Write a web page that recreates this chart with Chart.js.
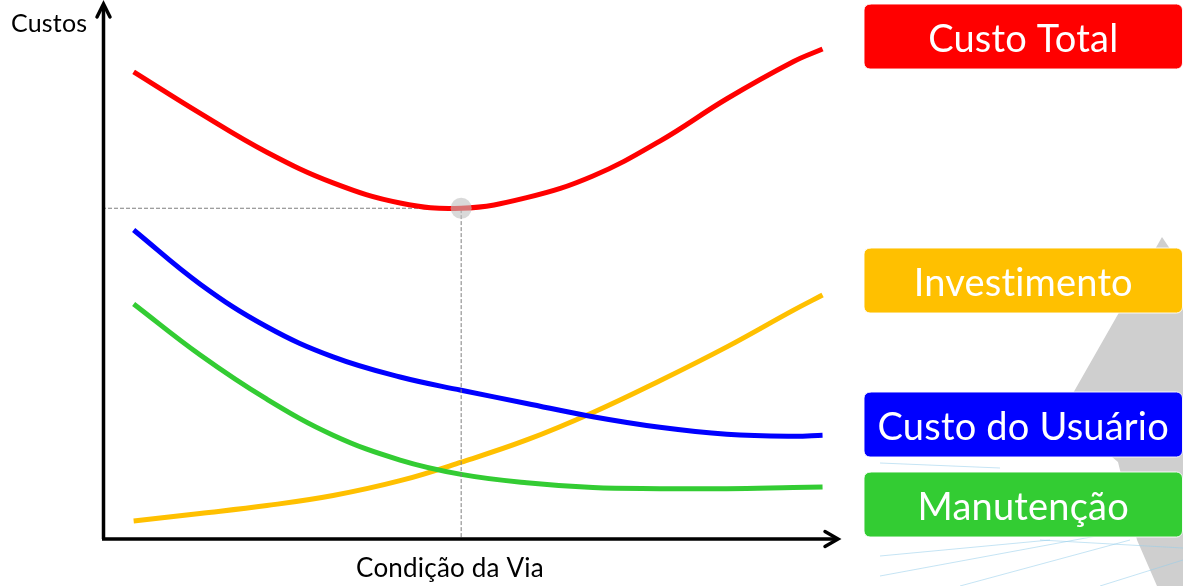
<!DOCTYPE html>
<html>
<head>
<meta charset="utf-8">
<script src="https://cdn.jsdelivr.net/npm/chart.js@4/dist/chart.umd.min.js"></script>
<style>
  html, body { margin: 0; padding: 0; background: #ffffff; }
  #wrap { position: relative; width: 1183px; height: 586px; }
</style>
</head>
<body>
<div id="wrap"><canvas id="c" width="1183" height="586"></canvas></div>
<script>
// ---- data ----
const condicao     = [4.3, 13.3, 22.4, 31.4, 40.5, 48.8, 57.7, 66.7, 75.8, 84.9, 93.9, 97.9];
const custoTotal   = [88.7, 80.9, 73.5, 67.7, 63.9, 62.9, 64.9, 69.0, 75.6, 83.6, 90.6, 93.0];
const custoUsuario = [58.8, 48.6, 40.5, 34.8, 31.0, 28.5, 26.0, 23.5, 21.5, 20.2, 19.8, 20.0];
const manutencao   = [44.8, 35.2, 26.8, 20.0, 15.3, 12.6, 11.0, 10.1, 9.9, 9.9, 10.1, 10.2];
const investimento = [3.8, 5.2, 6.7, 8.6, 11.4, 14.9, 19.1, 24.3, 30.3, 36.7, 43.6, 46.5];
const otimoX = [48.8];
const otimoY = [62.9];
const labels = ["Custo Total", "Investimento", "Custo do Usuário", "Manutenção"];
const axisTitleY = "Custos";
const axisTitleX = "Condição da Via";

const toXY = ys => condicao.map((x, i) => ({ x: x, y: ys[i] }));

const COLORS = { total: "#FF0000", inv: "#FFC000", usu: "#0000FF", man: "#33CC33" };

const decorPlugin = {
  id: "decor",
  beforeDraw(chart) {
    const ctx = chart.ctx;
    ctx.save();
    ctx.fillStyle = "#ffffff";
    ctx.fillRect(0, 0, chart.width, chart.height);
    // faint grey background shape on the right
    ctx.fillStyle = "#CFCFCF";
    ctx.beginPath();
    ctx.moveTo(1162, 237);
    ctx.lineTo(1183, 268);
    ctx.lineTo(1183, 586);
    ctx.lineTo(1157, 586);
    ctx.lineTo(1137, 540);
    ctx.lineTo(1118, 462);
    ctx.quadraticCurveTo(1078, 430, 1072, 395);
    ctx.closePath();
    ctx.fill();
    // faint light-blue lines
    ctx.strokeStyle = "rgba(150,205,235,0.55)";
    ctx.lineWidth = 1;
    const segs = [[880,463,1000,468],[880,556,1050,540],[880,576,1183,520],[960,586,1130,540],[1100,586,1183,560],[1040,540,1183,548]];
    segs.forEach(s => { ctx.beginPath(); ctx.moveTo(s[0], s[1]); ctx.lineTo(s[2], s[3]); ctx.stroke(); });
    ctx.restore();
  },
  afterDraw(chart) {
    const ctx = chart.ctx;
    const a = chart.chartArea;
    ctx.save();
    // axes with arrows
    ctx.strokeStyle = "#000000";
    ctx.lineWidth = 3.5;
    ctx.lineCap = "butt";
    const ax = a.left + 1.5, ay = a.bottom - 2;
    ctx.beginPath();
    ctx.moveTo(ax, ay);
    ctx.lineTo(ax, a.top - 7);
    ctx.moveTo(ax - 1.5, ay);
    ctx.lineTo(a.right - 1, ay);
    ctx.stroke();
    ctx.lineCap = "round";
    ctx.lineJoin = "miter";
    ctx.beginPath();
    ctx.moveTo(ax - 6.5, a.top + 5);
    ctx.lineTo(ax, a.top - 8);
    ctx.lineTo(ax + 6.5, a.top + 5);
    ctx.stroke();
    ctx.beginPath();
    ctx.moveTo(a.right - 13, ay - 7.5);
    ctx.lineTo(a.right, ay);
    ctx.lineTo(a.right - 13, ay + 7.5);
    ctx.stroke();
    // disable optional ligatures (e.g. "ti") via tiny letter spacing
    if ("letterSpacing" in ctx) ctx.letterSpacing = "0.2px";
    // axis titles
    ctx.fillStyle = "#000000";
    ctx.font = "25px Lato";
    ctx.textAlign = "left";
    ctx.textBaseline = "alphabetic";
    ctx.fillText(axisTitleY, 11, 32);
    ctx.font = "26px Lato";
    ctx.textAlign = "center";
    ctx.fillText(axisTitleX, 450, 577);
    // legend boxes
    const boxes = [
      { t: labels[0], y: 4,   c: COLORS.total },
      { t: labels[1], y: 248, c: COLORS.inv },
      { t: labels[2], y: 392, c: COLORS.usu },
      { t: labels[3], y: 472, c: COLORS.man }
    ];
    boxes.forEach(b => {
      const x = 864, w = 318.5, h = 65, r = 6;
      ctx.beginPath();
      ctx.roundRect(x, b.y, w, h, r);
      ctx.fillStyle = b.c;
      ctx.fill();
      ctx.lineWidth = 1;
      ctx.strokeStyle = "rgba(255,255,255,0.9)";
      ctx.stroke();
      ctx.fillStyle = "#ffffff";
      ctx.font = "38px Lato";
      ctx.textAlign = "center";
      ctx.textBaseline = "alphabetic";
      ctx.fillText(b.t, x + w / 2, b.y + 48);
    });
    ctx.restore();
  }
};

const lineStyle = { borderWidth: 5, pointRadius: 0, tension: 0.4, fill: false, borderCapStyle: "butt" };

new Chart(document.getElementById("c"), {
  type: "line",
  data: {
    datasets: [
      {
        label: "Ótimo",
        data: otimoX.map((x, i) => ({ x: x, y: otimoY[i] })),
        showLine: false,
        pointRadius: 10.5,
        pointBackgroundColor: "rgba(192,192,192,0.6)",
        pointBorderWidth: 0,
        pointBorderColor: "rgba(0,0,0,0)"
      },
      Object.assign({ label: "Custo Total", data: toXY(custoTotal), borderColor: COLORS.total }, lineStyle),
      {
        label: "guia",
        data: [{ x: 0, y: otimoY[0] }, { x: otimoX[0], y: otimoY[0] }, { x: otimoX[0], y: 0.6 }],
        borderColor: "#7F7F7F",
        borderWidth: 1,
        borderDash: [4, 2],
        pointRadius: 0,
        tension: 0,
        fill: false
      },
      Object.assign({ label: "Custo do Usuário", data: toXY(custoUsuario), borderColor: COLORS.usu }, lineStyle),
      Object.assign({ label: "Manutenção", data: toXY(manutencao), borderColor: COLORS.man }, lineStyle),
      Object.assign({ label: "Investimento", data: toXY(investimento), borderColor: COLORS.inv }, lineStyle)
    ]
  },
  options: {
    responsive: false,
    animation: false,
    devicePixelRatio: 1,
    layout: { padding: { left: 102, right: 345, top: 12, bottom: 45 } },
    plugins: { legend: { display: false }, tooltip: { enabled: false } },
    events: [],
    scales: {
      x: { type: "linear", min: 0, max: 100, display: false },
      y: { type: "linear", min: 0, max: 100, display: false }
    }
  },
  plugins: [decorPlugin]
});
</script>
</body>
</html>
